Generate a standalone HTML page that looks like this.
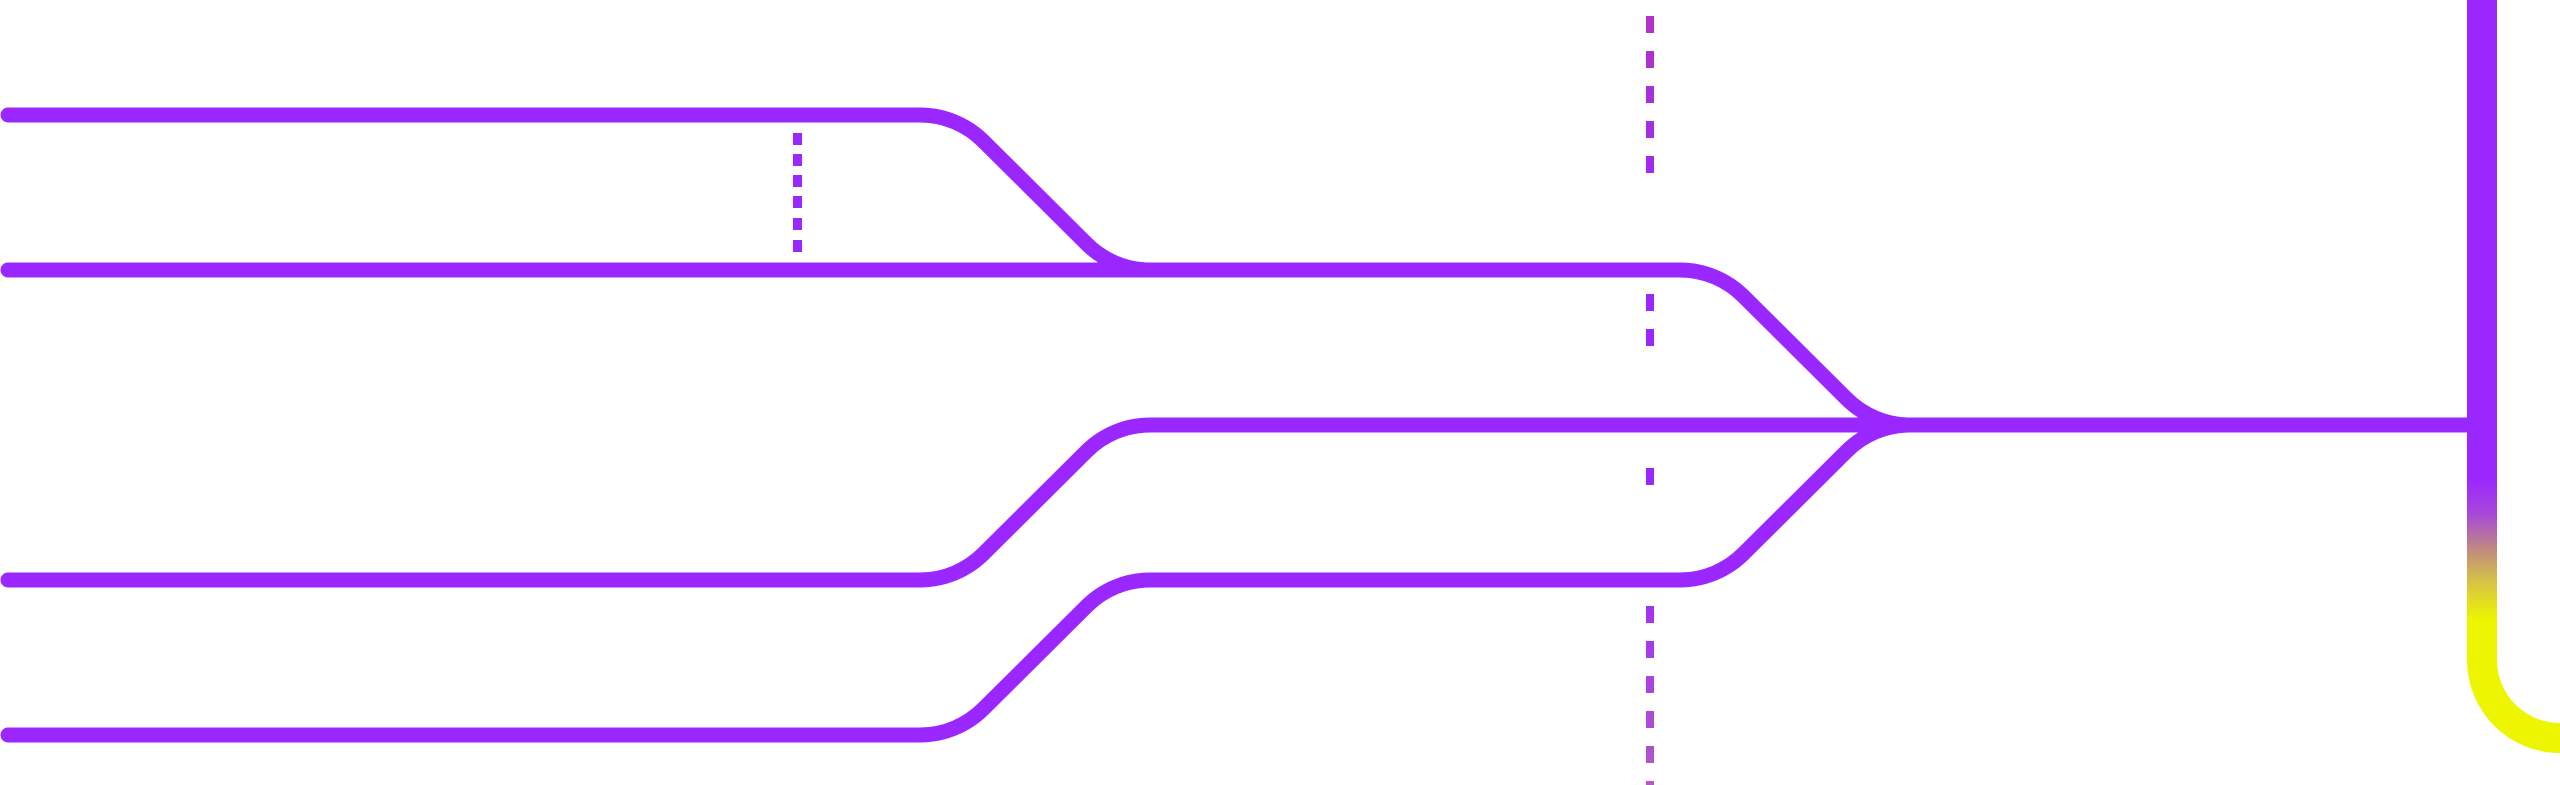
<!DOCTYPE html>
<html><head><meta charset="utf-8"><style>html,body{margin:0;padding:0;background:#fff;width:2560px;height:785px;overflow:hidden}</style></head>
<body>
<svg width="2560" height="785" viewBox="0 0 2560 785" xmlns="http://www.w3.org/2000/svg">
<defs>
<linearGradient id="vg" x1="0" y1="0" x2="0" y2="785" gradientUnits="userSpaceOnUse">
<stop offset="0" stop-color="#9b27ff"/>
<stop offset="0.61" stop-color="#9b27ff"/>
<stop offset="0.655" stop-color="#a848d8"/>
<stop offset="0.70" stop-color="#c08a80"/>
<stop offset="0.745" stop-color="#d8c840"/>
<stop offset="0.79" stop-color="#eef500"/>
<stop offset="1" stop-color="#eef500"/>
</linearGradient>
<linearGradient id="dg" x1="0" y1="0" x2="0" y2="785" gradientUnits="userSpaceOnUse">
<stop offset="0" stop-color="#b433c0"/>
<stop offset="0.3" stop-color="#9b27ff"/>
<stop offset="0.7" stop-color="#9b27ff"/>
<stop offset="1" stop-color="#b458c8"/>
</linearGradient>
</defs>
<g fill="none" stroke="#9b27ff" stroke-width="15" stroke-linecap="round">
<path d="M8,115 H920"/>
<path d="M8,270 H1680"/>
<path d="M1150,425 H2482" stroke-linecap="butt"/>
<path d="M8,580 H920"/>
<path d="M1150,580 H1680"/>
<path d="M8,735 H920"/>
</g>
<g fill="none" stroke="#9b27ff" stroke-width="15" stroke-linecap="butt">
<path d="M920,115 A90,90 0 0 1 983.6,141.4 L1086.4,243.6 A90,90 0 0 0 1150,270"/>
<path d="M1680,270 A90,90 0 0 1 1743.6,296.4 L1846.4,398.6 A90,90 0 0 0 1910,425"/>
<path d="M920,580 A90,90 0 0 0 983.6,553.6 L1086.4,451.4 A90,90 0 0 1 1150,425"/>
<path d="M920,735 A90,90 0 0 0 983.6,708.6 L1086.4,606.4 A90,90 0 0 1 1150,580"/>
<path d="M1680,580 A90,90 0 0 0 1743.6,553.6 L1846.4,451.4 A90,90 0 0 1 1910,425"/>
</g>
<path d="M2482,0 V660 A78,78 0 0 0 2560,738" fill="none" stroke="url(#vg)" stroke-width="30"/>
<g fill="#9b27ff">
<rect x="793" y="133" width="9" height="12"/>
<rect x="793" y="154" width="9" height="12"/>
<rect x="793" y="175" width="9" height="12"/>
<rect x="793" y="196" width="9" height="12"/>
<rect x="793" y="218" width="9" height="12"/>
<rect x="793" y="240" width="9" height="12"/>
</g>
<g fill="url(#dg)">
<rect x="1646" y="16" width="8" height="17"/>
<rect x="1646" y="51" width="8" height="17"/>
<rect x="1646" y="86" width="8" height="17"/>
<rect x="1646" y="121" width="8" height="17"/>
<rect x="1646" y="156" width="8" height="17"/>
<rect x="1646" y="294" width="8" height="17"/>
<rect x="1646" y="329" width="8" height="17"/>
<rect x="1646" y="468" width="8" height="17"/>
<rect x="1646" y="606" width="8" height="17"/>
<rect x="1646" y="641" width="8" height="17"/>
<rect x="1646" y="676" width="8" height="17"/>
<rect x="1646" y="711" width="8" height="17"/>
<rect x="1646" y="746" width="8" height="17"/>
<rect x="1646" y="781" width="8" height="17"/>
</g>
</svg>
</body></html>
